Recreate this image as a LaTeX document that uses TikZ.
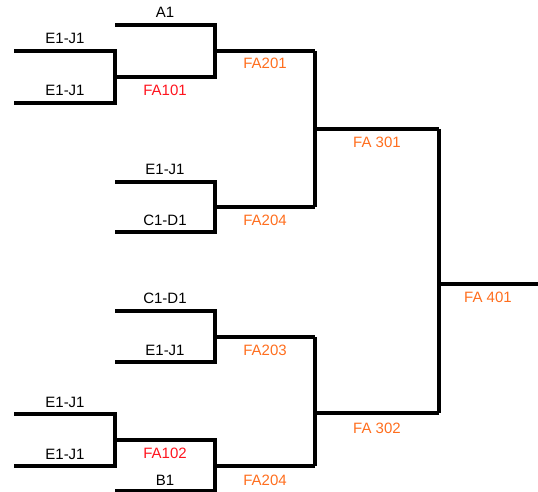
\documentclass[tikz,border=0pt]{standalone}
\usepackage{fontspec}
\setmainfont{Liberation Sans}
\definecolor{faorange}{RGB}{255,110,30}
\definecolor{fared}{RGB}{255,20,30}
\begin{document}
\begin{tikzpicture}[x=1pt,y=-1pt,
  bracket/.style={line width=3.8pt,line join=miter,line cap=butt},
  lbl/.style={anchor=base,inner sep=0pt,font=\fontsize{15}{18}\selectfont},
  lo/.style={lbl,text=faorange},
  lr/.style={lbl,text=fared}]
\useasboundingbox (0,0) rectangle (538,492);
% coordinates
\coordinate (l1a) at (14,51);   \coordinate (l1b) at (14,103);
\coordinate (j1) at (115,77);
\coordinate (a1s) at (115,25);
\coordinate (j2) at (215,51);
\coordinate (e2a) at (115,182); \coordinate (e2b) at (115,232);
\coordinate (j3) at (215,207);
\coordinate (j4) at (315,129);
\coordinate (c3a) at (115,311); \coordinate (c3b) at (115,362);
\coordinate (j5) at (215,337);
\coordinate (l4a) at (14,414);  \coordinate (l4b) at (14,466);
\coordinate (j6) at (115,440);
\coordinate (b1s) at (115,491);
\coordinate (j7) at (215,466);
\coordinate (j8) at (315,413);
\coordinate (j9) at (439,284);
\coordinate (fin) at (538,284);
% brackets
\draw[bracket] (l1a) -| (j1) |- (l1b);
\draw[bracket] (j1) -- (215,77);
\draw[bracket] (a1s) -| (j2) |- (j1);
\draw[bracket] (j2) -- (315,51);
\draw[bracket] (e2a) -| (j3) |- (e2b);
\draw[bracket] (j3) -- (315,207);
\draw[bracket] (315,51) -- (j4) -- (315,207);
\draw[bracket] (j4) -- (439,129);
\draw[bracket] (c3a) -| (j5) |- (c3b);
\draw[bracket] (j5) -- (315,337);
\draw[bracket] (l4a) -| (j6) |- (l4b);
\draw[bracket] (j6) -| (j7) |- (b1s);
\draw[bracket] (j7) -- (315,466);
\draw[bracket] (315,337) -- (j8) -- (315,466);
\draw[bracket] (j8) -- (439,413);
\draw[bracket] (439,129) -- (j9) -- (439,413);
\draw[bracket] (j9) -- (fin);
% labels
\node[lbl] (t1) at (65,44) {E1-J1};
\node[lbl] (t2) at (65,96) {E1-J1};
\node[lbl] (tA1) at (165,18) {A1};
\node[lr] (tFA101) at (165,96) {FA101};
\node[lo] (tFA201) at (265,69) {FA201};
\node[lbl] (t3) at (165,174) {E1-J1};
\node[lbl] (t4) at (165,225) {C1-D1};
\node[lo] (tFA204a) at (265,225) {FA204};
\node[lo] (tFA301) at (377,147) {FA 301};
\node[lbl] (t5) at (165,303) {C1-D1};
\node[lbl] (t6) at (165,355) {E1-J1};
\node[lo] (tFA203) at (265,355) {FA203};
\node[lbl] (t7) at (65,407) {E1-J1};
\node[lbl] (t8) at (65,459) {E1-J1};
\node[lr] (tFA102) at (165,458) {FA102};
\node[lbl] (tB1) at (165,485) {B1};
\node[lo] (tFA204b) at (265,485) {FA204};
\node[lo] (tFA302) at (377,433) {FA 302};
\node[lo] (tFA401) at (488,302) {FA 401};
\end{tikzpicture}
\end{document}
